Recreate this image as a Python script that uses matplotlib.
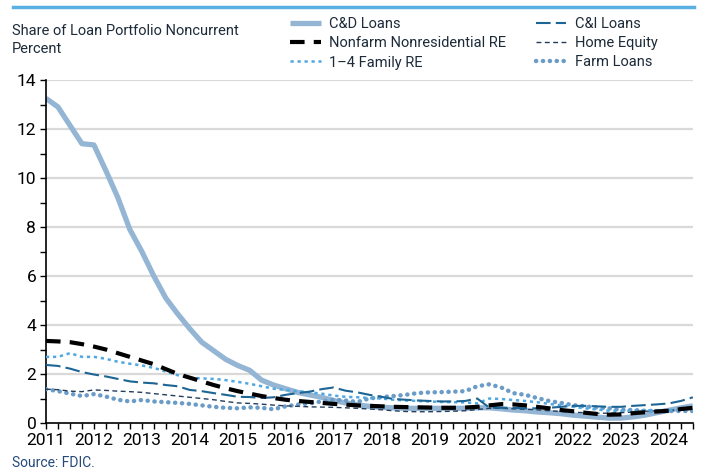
import matplotlib
matplotlib.use("Agg")
import matplotlib.pyplot as plt
from matplotlib.lines import Line2D

plt.rcParams['font.family'] = ['Roboto', 'DejaVu Sans']

# quarterly, 2011Q1 .. 2024Q3
years = list(range(2011, 2025))

cd_loans = [13.25, 12.9, 12.15, 11.4, 11.35, 10.3, 9.2, 7.9, 7.0, 6.0, 5.1, 4.45,
            3.85, 3.3, 2.95, 2.6, 2.35, 2.15, 1.75, 1.55, 1.4, 1.25, 1.15, 1.05,
            0.92, 0.82, 0.74, 0.68, 0.64, 0.62, 0.6, 0.6, 0.6, 0.6, 0.6, 0.6,
            0.62, 0.62, 0.58, 0.53, 0.5, 0.45, 0.42, 0.38, 0.32, 0.28, 0.24, 0.2,
            0.2, 0.25, 0.32, 0.42, 0.52, 0.62, 0.7]
nonfarm_re = [3.35, 3.33, 3.3, 3.22, 3.12, 3.0, 2.85, 2.7, 2.55, 2.4, 2.2, 2.0,
              1.85, 1.7, 1.55, 1.42, 1.3, 1.2, 1.1, 1.02, 0.95, 0.9, 0.86, 0.82,
              0.78, 0.75, 0.72, 0.7, 0.68, 0.66, 0.65, 0.64, 0.63, 0.62, 0.62, 0.63,
              0.66, 0.72, 0.77, 0.76, 0.72, 0.66, 0.6, 0.53, 0.48, 0.42, 0.37, 0.34,
              0.35, 0.4, 0.44, 0.47, 0.5, 0.57, 0.62]
family_re = [2.7, 2.7, 2.85, 2.7, 2.7, 2.62, 2.5, 2.42, 2.35, 2.25, 2.1, 1.95,
             1.85, 1.82, 1.8, 1.75, 1.68, 1.6, 1.5, 1.4, 1.35, 1.3, 1.25, 1.2,
             1.12, 1.07, 1.05, 1.02, 1.0, 0.95, 0.92, 0.9, 0.88, 0.86, 0.85, 0.84,
             0.8, 1.0, 0.98, 0.94, 0.9, 0.85, 0.78, 0.72, 0.66, 0.6, 0.55, 0.5,
             0.5, 0.5, 0.52, 0.52, 0.53, 0.54, 0.55]
ci_loans = [2.37, 2.33, 2.22, 2.08, 1.98, 1.9, 1.8, 1.7, 1.65, 1.62, 1.55, 1.5,
            1.35, 1.3, 1.22, 1.15, 1.07, 1.06, 1.02, 1.05, 1.15, 1.22, 1.28, 1.38,
            1.45, 1.32, 1.25, 1.15, 1.07, 0.98, 0.95, 0.92, 0.9, 0.88, 0.88, 0.9,
            1.0, 0.63, 0.62, 0.62, 0.6, 0.6, 0.62, 0.66, 0.7, 0.7, 0.68, 0.66,
            0.66, 0.7, 0.73, 0.76, 0.8, 0.9, 1.05]
home_equity = [1.38, 1.36, 1.3, 1.28, 1.35, 1.33, 1.3, 1.28, 1.25, 1.2, 1.15, 1.1,
               1.05, 1.0, 0.95, 0.88, 0.82, 0.8, 0.77, 0.73, 0.7, 0.68, 0.66, 0.65,
               0.64, 0.62, 0.6, 0.57, 0.54, 0.5, 0.47, 0.46, 0.46, 0.47, 0.48, 0.5,
               0.55, 0.6, 0.6, 0.58, 0.56, 0.54, 0.5, 0.47, 0.44, 0.42, 0.4, 0.4,
               0.42, 0.45, 0.48, 0.5, 0.52, 0.54, 0.55]
farm_loans = [1.38, 1.3, 1.2, 1.1, 1.18, 1.08, 0.95, 0.88, 0.94, 0.88, 0.85, 0.82,
              0.78, 0.72, 0.66, 0.62, 0.6, 0.64, 0.62, 0.56, 0.68, 0.75, 0.8, 0.88,
              0.95, 0.92, 0.86, 1.0, 1.06, 1.1, 1.15, 1.22, 1.25, 1.26, 1.28, 1.3,
              1.5, 1.58, 1.45, 1.22, 1.15, 1.02, 0.9, 0.82, 0.73, 0.68, 0.63, 0.6,
              0.54, 0.53, 0.5, 0.49, 0.49, 0.49, 0.49]

q = list(range(len(cd_loans)))

fig = plt.figure(figsize=(7.02, 4.72), dpi=100)
ax = fig.add_axes([0.0655, 0.1038, 0.9215, 0.7267])

ax.plot(q, cd_loans, color='#94b5d3', lw=3.8, solid_capstyle='butt', label='C&D Loans', zorder=2)
ax.plot(q, farm_loans, color='#6b9cc7', lw=3.2, linestyle=(0, (0.05, 1.5)),
        dash_capstyle='round', label='Farm Loans', zorder=3)
ax.plot(q, home_equity, color='#233d5c', lw=1.0, linestyle=(0, (3.5, 2.5)), label='Home Equity', zorder=4)
ax.plot(q, family_re, color='#4fa8e2', lw=1.8, linestyle=(0, (1.3, 1.5)), label='1–4 Family RE', zorder=4)
ax.plot(q, ci_loans, color='#1d6594', lw=1.5, linestyle=(0, (7, 2.5)), label='C&I Loans', zorder=5)
ax.plot(q, nonfarm_re, color='black', lw=3.0, linestyle=(0, (3.5, 2.2)), label='Nonfarm Nonresidential RE', zorder=6)

ax.set_xlim(0, len(q) - 1)
ax.set_ylim(0, 14)
ax.set_xticks(range(0, len(q), 4))
ax.set_xticklabels([str(y) for y in years])
ax.set_xticks(range(len(q)), minor=True)
ax.set_yticks(range(0, 15, 2))
ax.set_yticks(range(1, 15, 2), minor=True)

for s in ['top', 'right']:
    ax.spines[s].set_visible(False)
ax.spines['left'].set_linewidth(1.2)
ax.spines['bottom'].set_linewidth(1.2)
ax.tick_params(axis='both', which='both', direction='out', length=4, width=1, colors='black')
ax.tick_params(axis='both', labelsize=12.5, pad=3)
for gy in range(2, 15, 2):
    ax.axhline(gy, color='#d9d9d9', lw=1.6, zorder=0)

# header elements
fig.add_artist(Line2D([13 / 702, 694 / 702], [1 - 7 / 472, 1 - 7 / 472], color='#5aafe3', lw=2.5))
fig.text(12 / 702, 1 - 31 / 472, 'Share of Loan Portfolio Noncurrent', fontsize=10.5,
         color='#1c2b39', va='center')
fig.text(12 / 702, 1 - 49 / 472, 'Percent', fontsize=10.5, color='#1c2b39', va='center')
fig.text(12 / 702, 1 - 463 / 472, 'Source: FDIC.', fontsize=10, color='#24497a', va='center')

order = ['C&D Loans', 'Nonfarm Nonresidential RE', '1–4 Family RE',
         'C&I Loans', 'Home Equity', 'Farm Loans']
handles, labels = ax.get_legend_handles_labels()
lookup = dict(zip(labels, handles))
fig.legend([lookup[k] for k in order], order, ncol=2, loc='upper left',
           bbox_to_anchor=(290 / 702, 1 - 17 / 472), frameon=False, fontsize=10.5,
           handlelength=2.1, handletextpad=0.6, columnspacing=2.0, labelspacing=0.36,
           borderpad=0, borderaxespad=0, labelcolor='#1c2b39')

fig.savefig('out.png', dpi=100)
